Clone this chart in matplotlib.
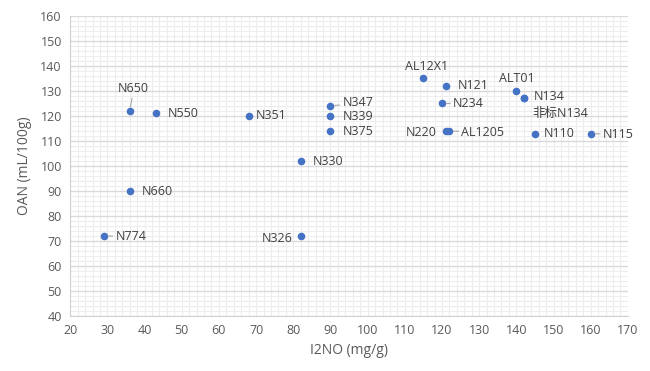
import numpy as np
import matplotlib
matplotlib.use('Agg')
from matplotlib import pyplot as plt
from matplotlib.ticker import MultipleLocator

plt.rcParams['font.family'] = ['Open Sans', 'Noto Sans CJK SC', 'DejaVu Sans']

# I2NO (mg/g), OAN (mL/100g), grade
i2no = [36, 43, 68, 90, 90, 90, 82, 36, 29, 82, 115, 121, 120, 121, 122, 140, 142, 142, 145, 160]
oan = [122, 121, 120, 124, 120, 114, 102, 90, 72, 72, 135, 132, 125, 114, 114, 130, 127, 127, 113, 113]
names = ['N650', 'N550', 'N351', 'N347', 'N339', 'N375', 'N330', 'N660', 'N774', 'N326',
         'AL12X1', 'N121', 'N234', 'N220', 'AL1205', 'ALT01', 'N134', '非标N134', 'N110', 'N115']

# label placement (offset in pixels, horizontal alignment, leader line)
offsets = [(4, 22), (12, 0), (7, 0), (12, 3), (12, -1), (12, 0), (12, 0), (12, 0), (12, 0), (-8, -2),
           (3, 12), (12, 0), (11, 0), (-9, -1), (12, -1), (0, 12), (10, 2), (9, -15), (9, 0), (12, -1)]
aligns = ['center', 'left', 'left', 'left', 'left', 'left', 'left', 'left', 'left', 'right',
          'center', 'left', 'left', 'right', 'left', 'center', 'left', 'left', 'left', 'left']
leaders = ['N650', 'N347', 'N774', 'N234', 'AL1205', 'N115']

fig = plt.figure(figsize=(6.5, 3.71), dpi=100)
ax = fig.add_axes([0.108, 0.148, 0.858, 0.809])

ax.scatter(i2no, oan, s=30, color='#4472C4', zorder=3, linewidths=0)

for x, y, name, off, ha in zip(i2no, oan, names, offsets, aligns):
    arrow = None
    if name in leaders:
        arrow = dict(arrowstyle='-', color='#A6A6A6', lw=0.8, shrinkA=0, shrinkB=3)
    ax.annotate(name, (x, y), xytext=off, textcoords='offset pixels',
                ha=ha, va='center', fontsize=9, color='#404040',
                arrowprops=arrow, zorder=4)

ax.set_xlim(20, 170)
ax.set_ylim(40, 160)
ax.xaxis.set_major_locator(MultipleLocator(10))
ax.yaxis.set_major_locator(MultipleLocator(10))
ax.xaxis.set_minor_locator(MultipleLocator(2))
ax.yaxis.set_minor_locator(MultipleLocator(2))

ax.grid(which='minor', axis='both', color='#EDEDED', lw=0.8)
ax.grid(which='major', axis='x', color='#EDEDED', lw=0.8)
ax.grid(which='major', axis='y', color='#D9D9D9', lw=1.0)
ax.set_axisbelow(True)

ax.tick_params(which='both', length=0, labelsize=9, colors='#595959', pad=6)
for s in ['top', 'right']:
    ax.spines[s].set_visible(False)
for s in ['left', 'bottom']:
    ax.spines[s].set_color('#D0D0D0')

ax.set_xlabel('I2NO (mg/g)', fontsize=10, color='#595959', labelpad=4)
ax.set_ylabel('OAN (mL/100g)', fontsize=10, color='#595959', labelpad=6)

fig.savefig('out.png', dpi=100)
